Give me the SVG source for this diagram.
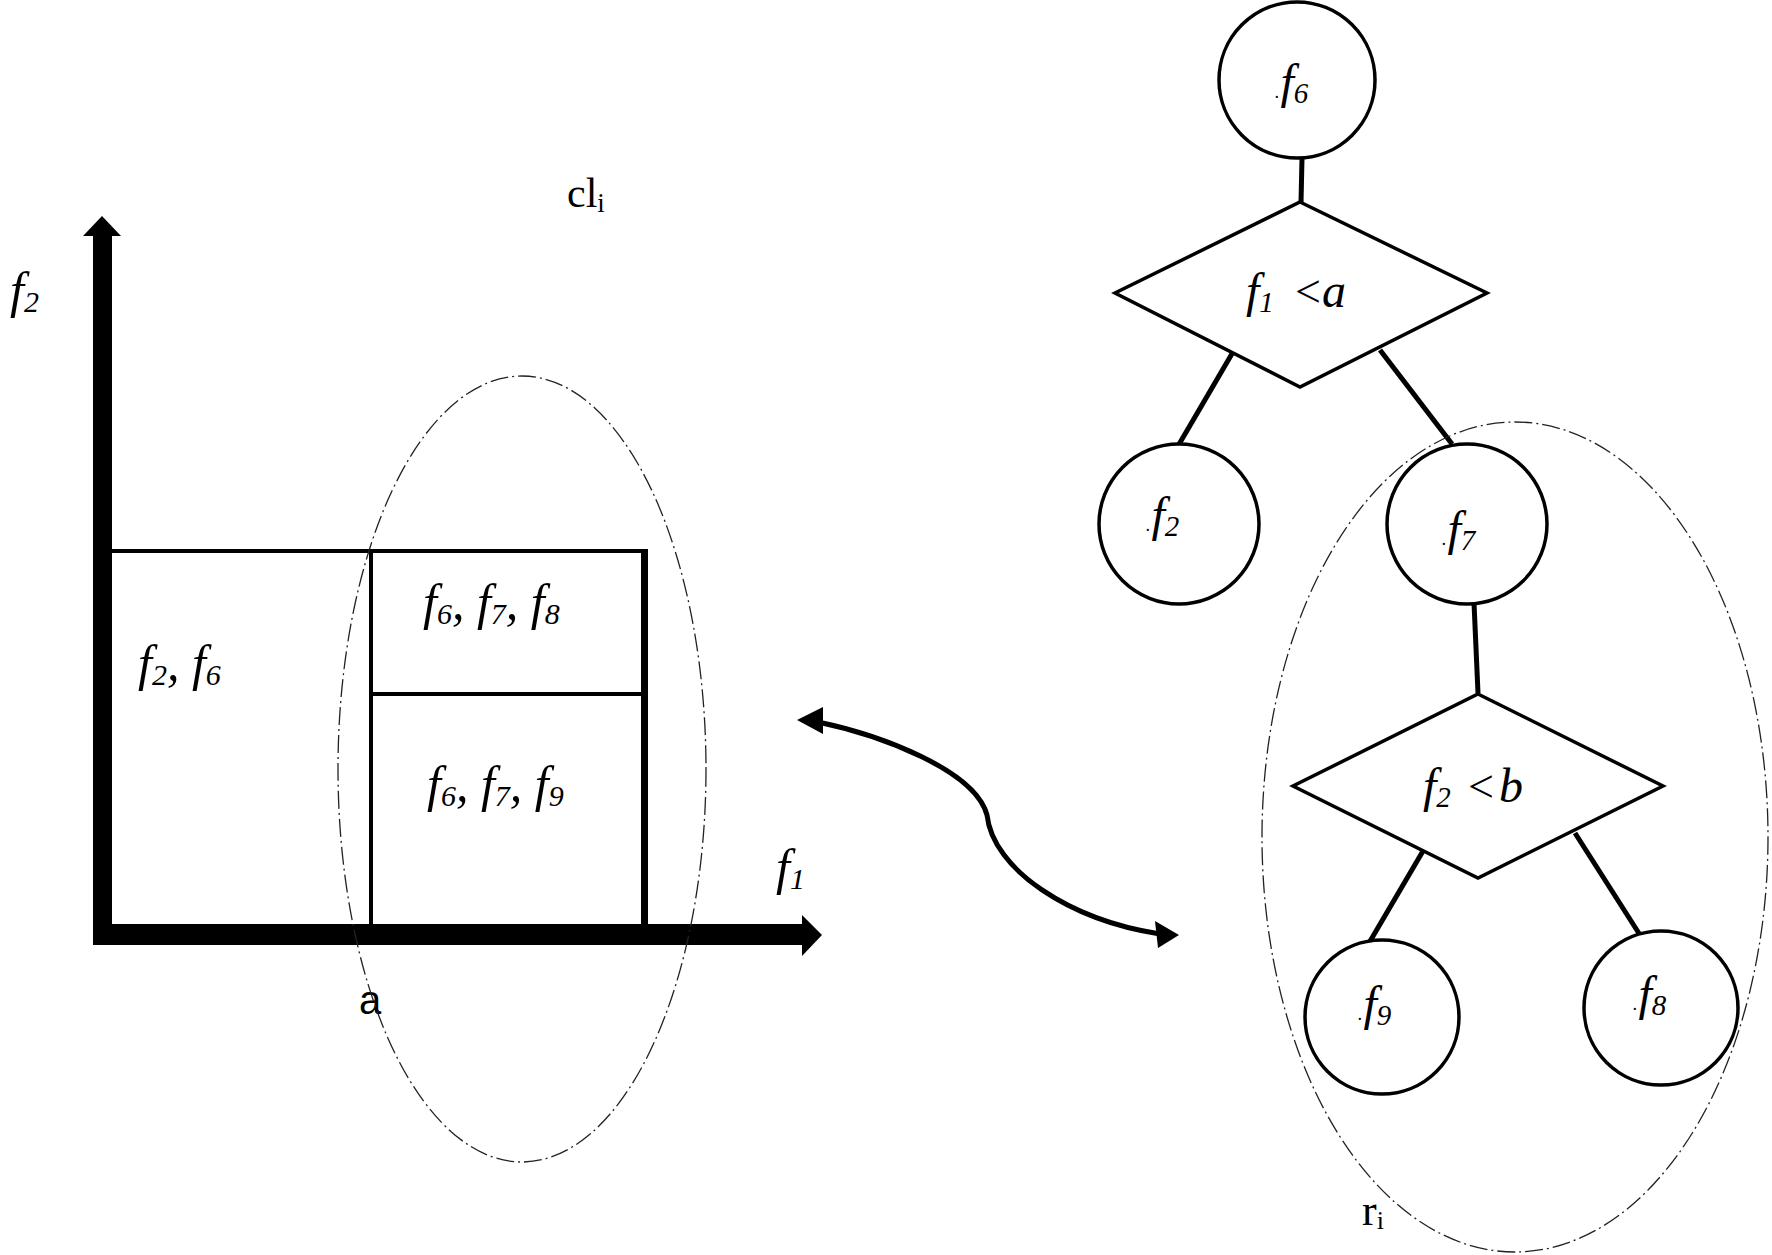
<svg xmlns="http://www.w3.org/2000/svg" width="1772" height="1255" viewBox="0 0 1772 1255">
<style>
  .t { font-family: "Liberation Serif", "Times New Roman", serif; font-style: italic; fill: #000; }
  .r { font-family: "Liberation Serif", "Times New Roman", serif; fill: #000; }
  .s { font-family: "Liberation Sans", Arial, sans-serif; fill: #000; }
  .lt { font-style: normal; }
  .node { fill: #fff; stroke: #000; stroke-width: 3.5; }
  .cell { fill: none; stroke: #000; stroke-width: 4; }
  .edge { stroke: #000; stroke-width: 5; fill: none; }
  .dash { fill: none; stroke: #222; stroke-width: 1.3; stroke-dasharray: 18 4 2 4; }
</style>
<rect width="1772" height="1255" fill="#fff"/>

<!-- Left: feature space -->
<g id="axes">
  <rect x="93" y="233" width="19" height="712" fill="#000"/>
  <polygon points="83,236 121,236 102,216" fill="#000"/>
  <rect x="93" y="924" width="710" height="21" fill="#000"/>
  <polygon points="802,915 802,956 822,935" fill="#000"/>
  <text class="t" x="10" y="307" font-size="50">f<tspan font-size="30" dy="5">2</tspan></text>
  <text class="t" x="776" y="884" font-size="50">f<tspan font-size="30" dy="5">1</tspan></text>
  <text class="s" x="359" y="1014" font-size="40">a</text>
</g>

<g id="cell-f2-f6">
  <polyline class="cell" points="102,551 371,551 371,924"/>
  <text class="t" x="138" y="680" font-size="50">f<tspan font-size="30" dy="5">2</tspan><tspan dy="-5">, f</tspan><tspan font-size="30" dy="5">6</tspan></text>
</g>
<g id="cell-f6-f7-f8">
  <polyline class="cell" points="371,551 645,551"/>
  <line x1="371" y1="694" x2="645" y2="694" stroke="#000" stroke-width="4"/>
  <text class="t" x="423" y="619" font-size="50">f<tspan font-size="30" dy="5">6</tspan><tspan dy="-5">, f</tspan><tspan font-size="30" dy="5">7</tspan><tspan dy="-5">, f</tspan><tspan font-size="30" dy="5">8</tspan></text>
</g>
<g id="cell-f6-f7-f9">
  <line x1="644.5" y1="549" x2="644.5" y2="926" stroke="#000" stroke-width="7"/>
  <text class="t" x="427" y="801" font-size="50">f<tspan font-size="30" dy="5">6</tspan><tspan dy="-5">, f</tspan><tspan font-size="30" dy="5">7</tspan><tspan dy="-5">, f</tspan><tspan font-size="30" dy="5">9</tspan></text>
</g>

<g id="cluster-cli">
  <ellipse class="dash" cx="522" cy="769" rx="184" ry="393"/>
  <text class="r" x="567" y="207" font-size="42">cl<tspan font-size="27" dy="5">i</tspan></text>
</g>

<!-- Right: decision tree -->
<g id="connectors">
  <line class="edge" x1="1302" y1="158" x2="1301" y2="203"/>
  <line class="edge" x1="1233" y1="352" x2="1178" y2="446"/>
  <line class="edge" x1="1380" y1="350" x2="1452" y2="444"/>
  <line class="edge" x1="1474" y1="603" x2="1478" y2="693"/>
  <line class="edge" x1="1423" y1="851" x2="1369" y2="943"/>
  <line class="edge" x1="1575" y1="833" x2="1640" y2="935"/>
  <path class="edge" d="M 818 722 C 880 735, 975 770, 987 815 C 993 870, 1070 920, 1160 934"/>
  <polygon points="797,720 823,707 823,734" fill="#000"/>
  <polygon points="1179,935 1155,921 1158,948" fill="#000"/>
</g>

<g id="node-f6">
  <circle class="node" cx="1297" cy="80" r="78"/>
  <text class="t" x="1275" y="98" font-size="48"><tspan font-size="18">.</tspan><tspan dx="1">f</tspan><tspan font-size="29" dy="5">6</tspan></text>
</g>
<g id="node-cond-a">
  <polygon class="node" points="1300,202 1487,293 1300,387 1115,293" stroke-width="3"/>
  <text class="t" y="307" font-size="48"><tspan x="1246">f</tspan><tspan font-size="29" dy="5">1</tspan><tspan class="lt" x="1295" dy="-5" font-size="46">&lt;</tspan><tspan x="1322">a</tspan></text>
</g>
<g id="node-f2">
  <circle class="node" cx="1179" cy="524" r="80"/>
  <text class="t" x="1146" y="531" font-size="48"><tspan font-size="18">.</tspan><tspan dx="1">f</tspan><tspan font-size="29" dy="5">2</tspan></text>
</g>
<g id="node-f7">
  <circle class="node" cx="1467" cy="524" r="80"/>
  <text class="t" x="1442" y="545" font-size="48"><tspan font-size="18">.</tspan><tspan dx="1">f</tspan><tspan font-size="29" dy="5">7</tspan></text>
</g>
<g id="node-cond-b">
  <polygon class="node" points="1478,694 1663,786 1478,878 1293,786" stroke-width="3"/>
  <text class="t" y="802" font-size="48"><tspan x="1423">f</tspan><tspan font-size="29" dy="5">2</tspan><tspan class="lt" x="1468" dy="-5" font-size="46">&lt;</tspan><tspan x="1499">b</tspan></text>
</g>
<g id="node-f9">
  <circle class="node" cx="1382" cy="1017" r="77"/>
  <text class="t" x="1358" y="1020" font-size="48"><tspan font-size="18">.</tspan><tspan dx="1">f</tspan><tspan font-size="29" dy="5">9</tspan></text>
</g>
<g id="node-f8">
  <circle class="node" cx="1661" cy="1008" r="77"/>
  <text class="t" x="1633" y="1010" font-size="48"><tspan font-size="18">.</tspan><tspan dx="1">f</tspan><tspan font-size="29" dy="5">8</tspan></text>
</g>

<g id="cluster-ri">
  <ellipse class="dash" cx="1515" cy="837" rx="253" ry="415"/>
  <text class="r" x="1362" y="1225" font-size="44">r<tspan font-size="26" dy="4">i</tspan></text>
</g>
</svg>
